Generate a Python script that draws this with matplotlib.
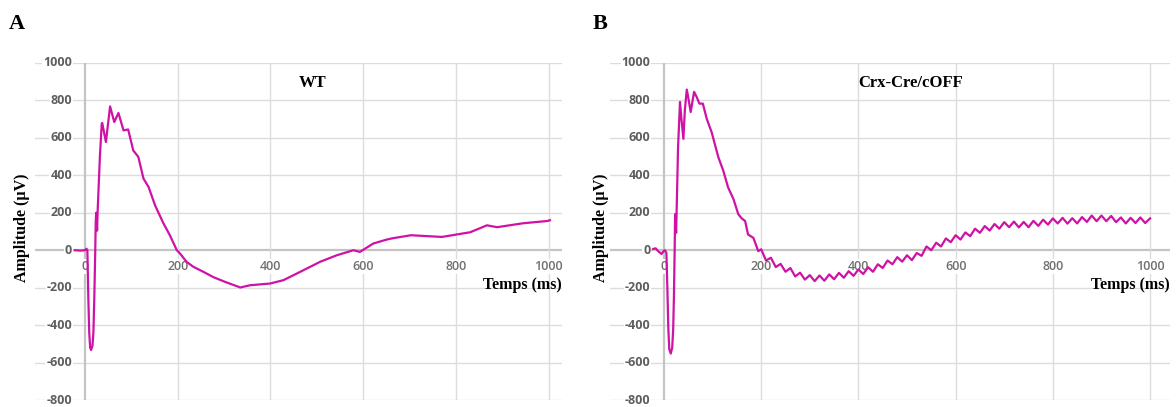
import numpy as np
import matplotlib.pyplot as plt

# ERG traces (time in ms, amplitude in uV)
wt_t = [-22, -10, 0, 3, 5, 7, 9, 11, 13, 16, 18, 20, 22, 23, 24, 26, 27, 32,
        36, 37, 45, 54, 63, 72, 83, 93, 104, 115, 126, 137, 151, 169, 183,
        198, 205, 219, 234, 255, 277, 302, 335, 356, 399, 428, 471, 507, 543,
        579, 593, 622, 651, 664, 703, 770, 831, 867, 889, 945, 997, 1003]
wt_v = [0, -2, 0, 8, 0, -250, -440, -520, -533, -510, -440, -250, 0, 145, 200,
        105, 200, 500, 676, 680, 578, 768, 685, 733, 640, 645, 533, 498, 383,
        338, 240, 144, 80, 0, -18, -62, -89, -115, -144, -169, -199, -187,
        -178, -160, -107, -62, -27, 0, -9, 36, 57, 64, 80, 71, 96, 133, 123,
        144, 156, 160]

ko_t_early = [-22, -17, -12, -5, -1, 2, 5, 7, 9, 11, 14, 17, 19, 20.5, 22, 23,
              25, 26, 29, 33, 36, 40, 43, 47, 51, 55, 62, 67, 73, 80, 88, 98,
              112, 122, 132, 143, 153, 160, 167, 173, 184, 194]
ko_v_early = [7, 10, -5, -20, -5, 0, -14, -200, -420, -530, -552, -520, -420,
              -250, 0, 193, 93, 200, 550, 792, 700, 595, 750, 858, 800, 738,
              846, 820, 783, 783, 702, 631, 496, 425, 335, 273, 192, 170, 156,
              84, 66, -5]
# 200 -> 1000 ms, one value every 10 ms (hum ripple on the trace)
ko_v_late = [5, -55, -40, -90, -73, -115, -95, -140, -120, -157, -133, -165,
             -135, -163, -129, -155, -121, -147, -112, -137, -103, -127, -91,
             -115, -75, -95, -55, -75, -37, -61, -27, -53, -15, -30, 20, 0, 40,
             20, 63, 43, 80, 57, 95, 75, 115, 93, 129, 105, 140, 115, 150, 123,
             153, 122, 151, 123, 157, 130, 163, 137, 170, 143, 173, 142, 171,
             143, 177, 151, 185, 155, 185, 155, 183, 150, 175, 143, 173, 145,
             175, 145, 170]
ko_t = ko_t_early + list(range(200, 1001, 10))
ko_v = ko_v_early + ko_v_late

yticks = [1000, 800, 600, 400, 200, 0, -200, -400, -600, -800]
xticks = [0, 200, 400, 600, 800, 1000]

LINE = '#cf12a6'
GRID = '#dcdcdc'
TICK = '#5e5e5e'

fig = plt.figure(figsize=(11.76, 4.07), dpi=100)
W, H = 1176, 407

panels = [
    # left px, right px, xlim, trace, title + its x, letter + its x, ylabel x
    (35, 562, (-108, 1029), wt_t, wt_v, 'WT', 490, 'A', 17, 22),
    (610, 1170, (-111, 1041), ko_t, ko_v, 'Crx-Cre/cOFF', 508, 'B', 600, 601),
]

for left, right, xlim, t, v, title, tx, letter, lx, ylx in panels:
    ax = fig.add_axes([left / W, 7 / H, (right - left) / W, 337 / H])
    ax.set_xlim(*xlim)
    ax.set_ylim(-800, 1000)
    ax.axis('off')

    for y in yticks:
        ax.axhline(y, color='#c4c4c4' if y == 0 else GRID,
                   lw=1.6 if y == 0 else 1.0, zorder=1)
    for x in xticks:
        ax.axvline(x, color='#c4c4c4' if x == 0 else GRID,
                   lw=1.6 if x == 0 else 1.0, zorder=1)

    box = dict(facecolor='white', edgecolor='none', pad=0.6)
    for y in yticks:
        ax.text(-28, y, str(y), ha='right', va='center', fontsize=9,
                family='Open Sans', weight='bold', color=TICK, bbox=box,
                zorder=2)
    for x in xticks:
        ax.text(x, -85, str(x), ha='center', va='center', fontsize=9,
                family='Open Sans', weight='semibold', color='#707070',
                bbox=box, zorder=2)

    ax.plot(t, v, color=LINE, lw=1.6, zorder=3)

    ax.text(xlim[1], -187, 'Temps (ms)', ha='right', va='center',
            fontsize=11.5, family='Liberation Serif', weight='bold', zorder=4)
    ax.text(tx, 893, title, ha='center', va='center', fontsize=12,
            family='Liberation Serif', weight='bold', zorder=4)

    fig.text(lx / W, 1 - 24 / H, letter, ha='center', va='center',
             fontsize=16, family='Liberation Serif', weight='bold')
    fig.text(ylx / W, 1 - 228 / H, 'Amplitude (µV)', rotation=90,
             ha='center', va='center', fontsize=11.5,
             family='Liberation Serif', weight='bold')

fig.savefig('out.png', dpi=100)
